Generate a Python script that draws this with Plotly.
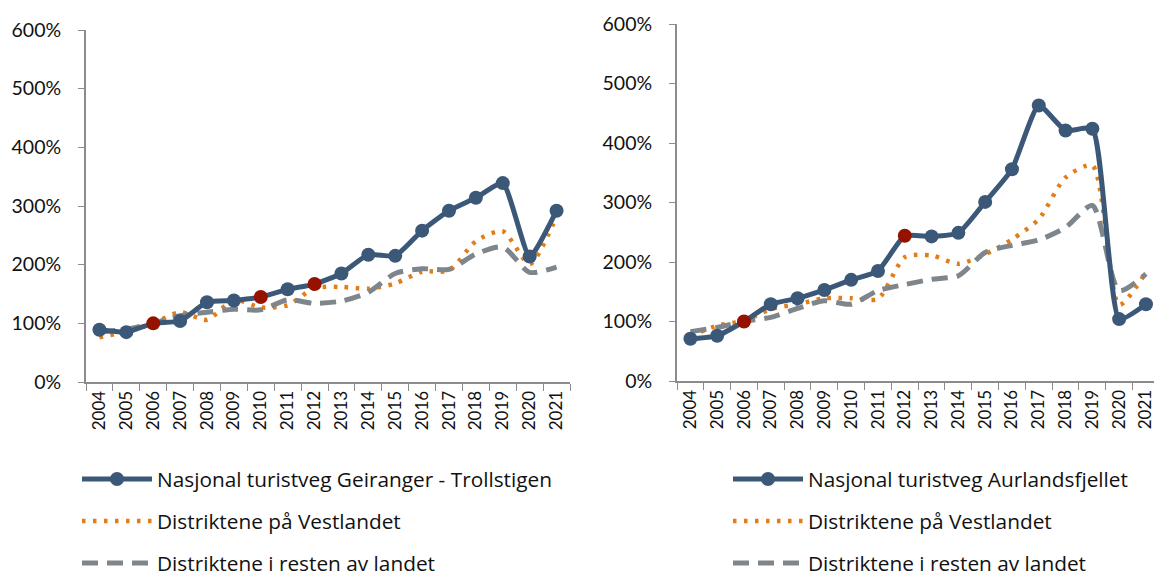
import plotly.graph_objects as go

years = [str(y) for y in range(2004, 2022)]

# Left chart: Geiranger - Trollstigen
geiranger = [89, 85, 100, 104, 136, 139, 145, 158, 167, 185, 217, 215, 258, 292, 314, 339, 214, 292]
vest_left = [76, 86, 100, 119, 106, 140, 127, 131, 160, 162, 159, 168, 188, 190, 240, 257, 201, 283]
rest_left = [85, 90, 100, 113, 119, 124, 123, 140, 134, 138, 153, 185, 193, 192, 218, 230, 187, 196]
red_left = ["2006", "2010", "2012"]

# Right chart: Aurlandsfjellet
aurland = [71, 76, 100, 129, 139, 153, 170, 185, 244, 243, 249, 301, 356, 463, 421, 424, 104, 129]
vest_right = [76, 93, 101, 121, 129, 139, 139, 138, 208, 211, 197, 213, 238, 272, 342, 362, 128, 183]
rest_right = [83, 90, 100, 107, 122, 135, 129, 152, 162, 171, 177, 216, 228, 237, 258, 295, 152, 180]
red_right = ["2006", "2012"]

names_left = ["Nasjonal turistveg Geiranger - Trollstigen", "Distriktene på Vestlandet", "Distriktene i resten av landet"]
names_right = ["Nasjonal turistveg Aurlandsfjellet", "Distriktene på Vestlandet", "Distriktene i resten av landet"]

BLUE = "#3C5878"
RED = "#961200"
ORANGE = "#E17E1A"
GREY = "#7E858B"
FONT = "Lato"

fig = go.Figure()

def add_panel(xa, ya, legend, main, vest, rest, reds, names):
    fig.add_trace(go.Scatter(
        x=years, y=vest, name=names[1], mode="lines",
        line=dict(color=ORANGE, width=4.5, dash="3.5px,7.5px", shape="spline", smoothing=0.7),
        xaxis=xa, yaxis=ya, legend=legend, legendgroup=legend + "b", legendrank=2))
    fig.add_trace(go.Scatter(
        x=years, y=rest, name=names[2], mode="lines",
        line=dict(color=GREY, width=5, dash="16px,9px", shape="spline", smoothing=0.7),
        xaxis=xa, yaxis=ya, legend=legend, legendgroup=legend + "c", legendrank=3))
    fig.add_trace(go.Scatter(
        x=years, y=main, name=names[0], mode="lines+markers",
        line=dict(color=BLUE, width=5, shape="spline", smoothing=0.5),
        marker=dict(size=14, color=[RED if y in reds else BLUE for y in years]),
        xaxis=xa, yaxis=ya, legend=legend, legendgroup=legend + "a", legendrank=1))

add_panel("x", "y", "legend", geiranger, vest_left, rest_left, red_left, names_left)
add_panel("x2", "y2", "legend2", aurland, vest_right, rest_right, red_right, names_right)

axcol = "#8C8C8C"
xcommon = dict(type="category", categoryorder="array", categoryarray=years,
               tickangle=-90, ticks="outside", tickson="boundaries", ticklen=7,
               tickcolor=axcol, showline=True, linecolor=axcol, linewidth=2,
               showgrid=False, zeroline=False, tickfont=dict(size=17, color="#111"),
               automargin=False)
ycommon = dict(range=[0, 600], dtick=100, ticksuffix="%", ticks="outside", ticklen=6,
               tickcolor=axcol, showline=True, linecolor=axcol, linewidth=2,
               showgrid=False, zeroline=False, tickfont=dict(size=19.5, color="#111"),
               ticklabelstandoff=13, automargin=False)

legcommon = dict(xanchor="left", yanchor="top",
                 font=dict(family="Open Sans", size=20.8, color="#111"),
                 tracegroupgap=12, bgcolor="rgba(0,0,0,0)", traceorder="grouped",
                 itemwidth=70)

fig.update_layout(
    width=1154, height=578,
    margin=dict(l=0, r=0, t=0, b=0, autoexpand=False),
    paper_bgcolor="white", plot_bgcolor="white",
    font=dict(family=FONT, color="#111"),
    xaxis=dict(domain=[86/1154, 570/1154], range=[-0.5, 17.5], anchor="y", **xcommon),
    yaxis=dict(domain=[1-382/578, 1-30/578], anchor="x", **ycommon),
    xaxis2=dict(domain=[677/1154, 1.0], range=[-0.5, 17.3], anchor="y2", **xcommon),
    yaxis2=dict(domain=[1-381/578, 1-24/578], anchor="x2", **ycommon),
    legend=dict(x=77/1154, y=1-459/578, **legcommon),
    legend2=dict(x=728/1154, y=1-459/578, **legcommon),
    showlegend=True,
)

fig.write_html("out.html", config={"displayModeBar": False},
               post_script="document.body.style.margin='0';document.body.style.overflow='hidden';")
